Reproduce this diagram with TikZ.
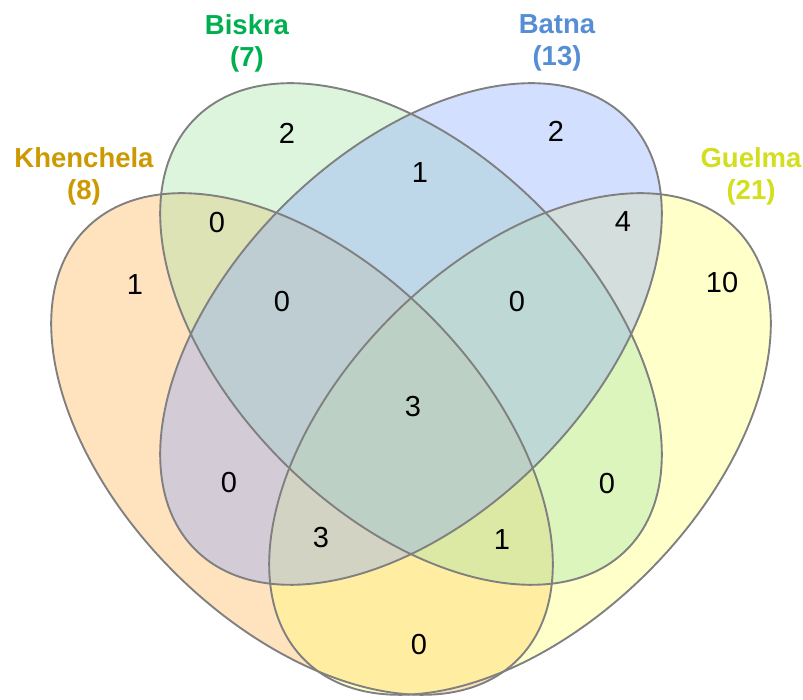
\documentclass[tikz,border=0pt]{standalone}
\usepackage{fontspec}
\setmainfont{Liberation Sans}

\definecolor{khenchela}{RGB}{204,153,0}
\definecolor{biskra}{RGB}{0,176,80}
\definecolor{batna}{RGB}{85,142,213}
\definecolor{guelma}{RGB}{210,222,30}
\definecolor{khenchelafill}{RGB}{255,190,110}
\definecolor{biskrafill}{RGB}{170,230,170}
\definecolor{batnafill}{RGB}{140,170,255}
\definecolor{guelmafill}{RGB}{255,255,120}

\tikzset{
  setline/.style={draw=black!50, line width=1.9pt},
  count/.style={font=\fontsize{29}{31}\selectfont, inner sep=0pt},
  setlabel/.style={font=\fontsize{27.5}{32}\selectfont\bfseries, align=center, inner sep=0pt}
}

\begin{document}
\begin{tikzpicture}[x=1pt,y=1pt]

  % white background, same size as the reference
  \useasboundingbox (0,0) rectangle (803,700);

  % fill the four sets (blue last)
  \fill [khenchelafill, fill opacity=0.45] (302,256) ellipse [x radius=305, y radius=181, rotate=-45];
  \fill [guelmafill, fill opacity=0.40] (520,256) ellipse [x radius=305, y radius=181, rotate=45];
  \fill [biskrafill, fill opacity=0.40] (411,366) ellipse [x radius=305, y radius=181, rotate=-45];
  \fill [batnafill, fill opacity=0.38] (411,366) ellipse [x radius=305, y radius=181, rotate=45];

  % outlines
  \foreach \cx/\cy/\ang in {302/256/-45, 411/366/-45, 411/366/45, 520/256/45}{
    \draw [setline] (\cx,\cy) ellipse [x radius=305, y radius=181, rotate=\ang];
  }

  % counts in each region
  \foreach \x/\y/\n [count=\i] in {287/567/2, 135/415/1, 217/477/0, 282/398/0,
      420/527/1, 556/569/2, 623/478/4, 722/417/10, 517/398/0, 413/293/3,
      229/217/0, 321/162/3, 607/216/0, 502/160/1, 419/55/0}{
    \node [count] (n\i) at (\x,\y) {\n};
  }

  % set names
  \node [setlabel, text=khenchela] (khenchela) at (84,524) {Khenchela\\(8)};
  \node [setlabel, text=biskra] (biskra) at (247,657) {Biskra\\(7)};
  \node [setlabel, text=batna] (batna) at (557,657) {Batna\\(13)};
  \node [setlabel, text=guelma] (guelma) at (751,524) {Guelma\\(21)};

\end{tikzpicture}
\end{document}
